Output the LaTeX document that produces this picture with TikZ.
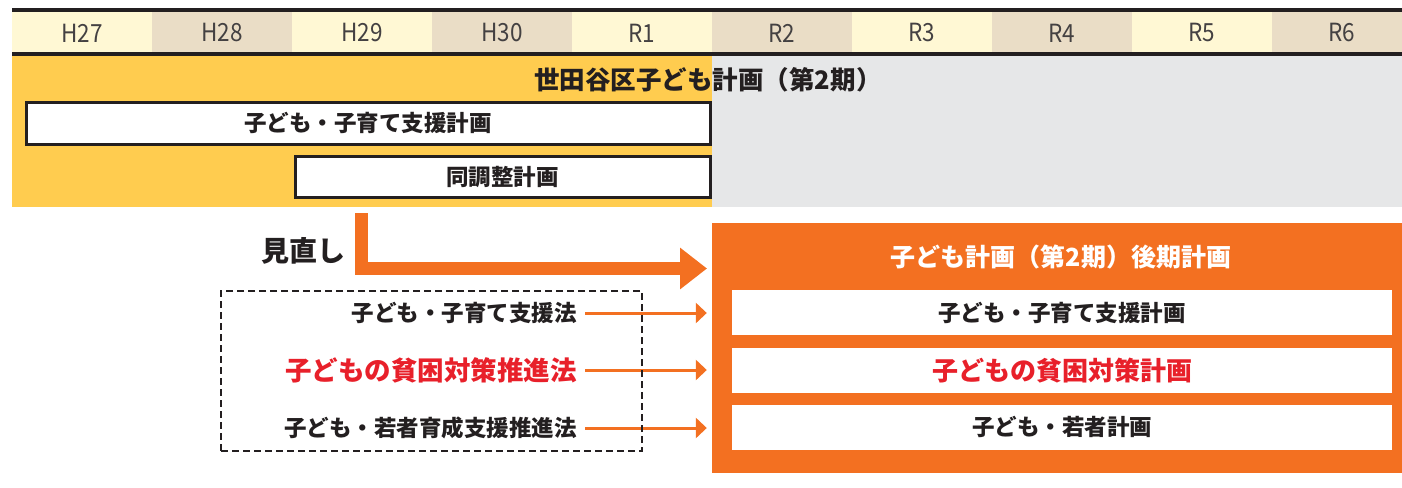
\documentclass[tikz,border=0pt]{standalone}
\usepackage{fontspec}
\setmainfont{Noto Sans CJK JP}
\newfontfamily\hdrfont{Noto Sans CJK JP}[FakeStretch=0.9]
\usetikzlibrary{arrows.meta}
\definecolor{ink}{HTML}{231F20}
\definecolor{hdrlight}{HTML}{FFF8D4}
\definecolor{hdrbeige}{HTML}{EADDC6}
\definecolor{bandyellow}{HTML}{FFCC4F}
\definecolor{bandgray}{HTML}{E6E7E8}
\definecolor{planorange}{HTML}{F37021}
\definecolor{planred}{HTML}{E8202A}
\tikzset{
  hdrlabel/.style={text=ink!85, font=\hdrfont\fontsize{25}{29}\selectfont, inner sep=0pt},
  oldbox/.style={draw=ink, line width=3pt, fill=white, inner sep=0pt,
    font=\bfseries\fontsize{22.5}{27}\selectfont, text=ink},
  newbox/.style={fill=white, inner sep=0pt, minimum width=660pt, minimum height=45pt,
    font=\bfseries\fontsize{22.5}{27}\selectfont, text=ink},
  lawtext/.style={anchor=east, inner sep=0pt, font=\bfseries\fontsize{22.5}{27}\selectfont, text=ink},
  lawarrow/.style={draw=planorange, line width=3pt, -{Triangle[length=11pt,width=20pt]},
    shorten <=8pt, shorten >=5pt},
  bigarrow/.style={draw=planorange, line width=13pt, -{Triangle[length=27pt,width=40pt]}},
}
\begin{document}
\begin{tikzpicture}[x=1pt,y=-1pt]
\useasboundingbox (0,0) rectangle (1402,487);
% header cells
\foreach \i/\lab in {0/H27,1/H28,2/H29,3/H30,4/R1,5/R2,6/R3,7/R4,8/R5,9/R6}{
  \pgfmathtruncatemacro{\parity}{mod(\i,2)}
  \ifnum\parity=0 \def\cc{hdrlight}\else\def\cc{hdrbeige}\fi
  \pgfmathsetmacro{\xa}{12+140*\i}
  \pgfmathsetmacro{\xb}{min(12+140*(\i+1),1402)}
  \fill[\cc] (\xa,10) rectangle (\xb,55);
  \node[hdrlabel] (hdr\i) at (82+140*\i,33) {\lab};
}
\draw[ink, line width=3.5pt] (12,10) -- (1402,10);
\draw[ink, line width=4pt] (12,54.5) -- (1402,54.5);
% bands
\fill[bandyellow] (12,56.5) rectangle (712,207);
\fill[bandgray] (712,56.5) rectangle (1402,207);
\node[inner sep=0pt, font=\bfseries\fontsize{25.5}{30}\selectfont, text=ink] (plan2) at (708,80) {世田谷区子ども計画（第2期）};
\node[oldbox, minimum width=684pt, minimum height=42pt] (oldkosodate) at (368,123) {子ども・子育て支援計画};
\node[oldbox, minimum width=415pt, minimum height=41pt] (oldchosei) at (502.5,177) {同調整計画};
% review arrow
\node[inner sep=0pt, font=\bfseries\fontsize{28}{32}\selectfont, text=ink] (review) at (303,251) {見直し};
\coordinate (revstart) at (361,213);
\coordinate (revend) at (707,268.5);
\draw[bigarrow] (revstart) |- (revend);
% later plan
\node[fill=planorange, minimum width=690pt, minimum height=250pt, inner sep=0pt] (later) at (1057,348) {};
\node[inner sep=0pt, font=\bfseries\fontsize{25}{30}\selectfont, text=white] (latertitle) at (1061,257) {子ども計画（第2期）後期計画};
\node[newbox] (newkosodate) at (1062,312.5) {子ども・子育て支援計画};
\node[newbox, text=planred, font=\bfseries\fontsize{26}{30}\selectfont] (newhinkon) at (1062,370.5) {子どもの貧困対策計画};
\node[newbox] (newwakamono) at (1062,427) {子ども・若者計画};
% laws
\node[lawtext] (lawkosodate) at (577,313) {子ども・子育て支援法};
\node[lawtext, text=planred, font=\bfseries\fontsize{26.5}{30}\selectfont] (lawhinkon) at (577,370) {子どもの貧困対策推進法};
\node[lawtext] (lawwakamono) at (577,428) {子ども・若者育成支援推進法};
\draw[lawarrow] (lawkosodate.east) -- (lawkosodate.east -| later.west);
\draw[lawarrow] (lawhinkon.east) -- (lawhinkon.east -| later.west);
\draw[lawarrow] (lawwakamono.east) -- (lawwakamono.east -| later.west);
% dashed frame around laws
\node[draw=ink, line width=2pt, dash pattern=on 7pt off 4pt, minimum width=421pt, minimum height=160pt, inner sep=0pt] (lawframe) at (431.5,371) {};
\end{tikzpicture}
\end{document}
